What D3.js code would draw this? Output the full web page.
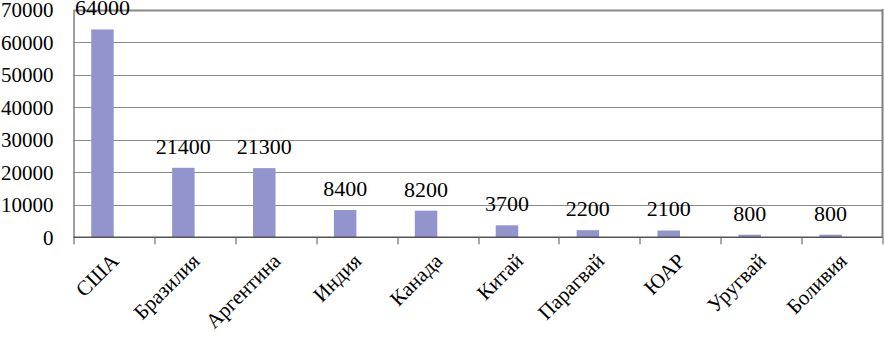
<!DOCTYPE html>
<html>
<head>
<meta charset="utf-8">
<script src="https://cdn.jsdelivr.net/npm/d3@7"></script>
<style>
  body { margin: 0; background: #fff; }
</style>
</head>
<body>
<div id="chart"></div>
<script>
const countries = ["США", "Бразилия", "Аргентина", "Индия", "Канада", "Китай", "Парагвай", "ЮАР", "Уругвай", "Боливия"];
const values = [64000, 21400, 21300, 8400, 8200, 3700, 2200, 2100, 800, 800];
const yTicks = [0, 10000, 20000, 30000, 40000, 50000, 60000, 70000];

const serif = "'Liberation Serif', 'Times New Roman', serif";

const width = 885, height = 337;
const margin = { top: 10, right: 2.5, bottom: 99.7, left: 73.5 };
const innerW = width - margin.left - margin.right;
const innerH = height - margin.top - margin.bottom;

const svg = d3.select("#chart").append("svg")
  .attr("width", width)
  .attr("height", height)
  .style("display", "block")
  .style("font-family", serif);

const g = svg.append("g").attr("transform", `translate(${margin.left},${margin.top})`);

const x = d3.scaleBand().domain(countries).range([0, innerW]).padding(0);
const y = d3.scaleLinear().domain([0, 70000]).range([innerH, 0]);

// gridlines
g.append("g")
  .selectAll("line")
  .data(yTicks.filter(d => d > 0))
  .join("line")
  .attr("x1", 0)
  .attr("x2", innerW)
  .attr("y1", d => Math.round(y(d)) + 0.5)
  .attr("y2", d => Math.round(y(d)) + 0.5)
  .attr("stroke", "#8a8a8a")
  .attr("stroke-width", d => d === 70000 ? 2 : 1.2);

// right border
g.append("line")
  .attr("x1", innerW).attr("x2", innerW)
  .attr("y1", y(70000) - 1).attr("y2", innerH)
  .attr("stroke", "#808080")
  .attr("stroke-width", 2);

// bars (offset to the left of the category centre, as in the original)
const barOff = 0.219, barW = 0.278;
const barData = countries.map((c, i) => ({ key: c, value: values[i] }));
g.append("g")
  .attr("fill", "#9393cd")
  .selectAll("rect")
  .data(barData)
  .join("rect")
  .attr("x", d => x(d.key) + x.bandwidth() * barOff)
  .attr("y", d => y(d.value))
  .attr("width", x.bandwidth() * barW)
  .attr("height", d => y(0) - y(d.value));

// value labels
g.append("g")
  .attr("text-anchor", "middle")
  .selectAll("text")
  .data(barData)
  .join("text")
  .style("font-family", serif)
  .style("font-size", "22px")
  .attr("fill", "#000")
  .attr("x", d => x(d.key) + x.bandwidth() * (barOff + barW / 2))
  .attr("y", d => y(d.value) - 14)
  .text(d => d.value);

// y axis
const yAxis = g.append("g")
  .call(d3.axisLeft(y).tickValues(yTicks).tickSize(0).tickPadding(20).tickFormat(d3.format("d")));
yAxis.attr("font-family", null).attr("font-size", null);
yAxis.select(".domain").attr("stroke", "#808080").attr("stroke-width", 1.5);
yAxis.selectAll("text")
  .style("font-family", serif)
  .style("font-size", "21px")
  .attr("fill", "#000");

// x axis line + ticks at category boundaries
const xAxis = g.append("g").attr("transform", `translate(0,${innerH})`);
xAxis.append("line")
  .attr("x1", 0).attr("x2", innerW)
  .attr("stroke", "#555").attr("stroke-width", 1.5);
xAxis.selectAll("line.tick")
  .data(d3.range(countries.length + 1))
  .join("line")
  .attr("class", "tick")
  .attr("x1", i => Math.round(i * x.step()) + 0.5)
  .attr("x2", i => Math.round(i * x.step()) + 0.5)
  .attr("y1", 0)
  .attr("y2", 7)
  .attr("stroke", "#555");

// rotated category labels
xAxis.selectAll("text")
  .data(countries)
  .join("text")
  .attr("text-anchor", "end")
  .style("font-family", serif)
  .style("font-size", "21px")
  .attr("fill", "#000")
  .attr("transform", d => `translate(${x(d) + x.bandwidth() / 2 + 6},${25}) rotate(-45)`)
  .text(d => d);
</script>
</body>
</html>
